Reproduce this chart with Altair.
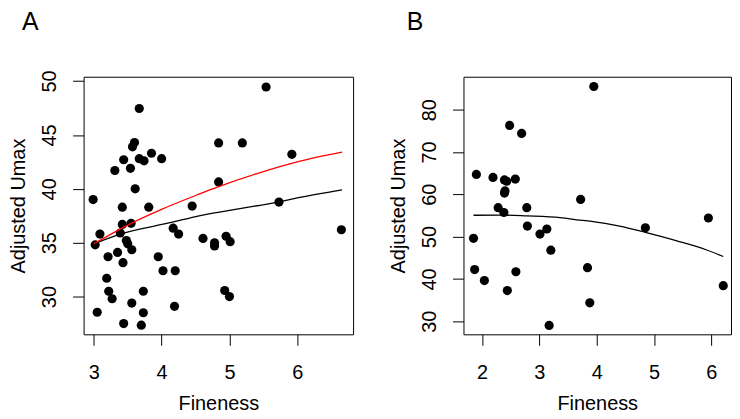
import altair as alt
import pandas as pd

FONT = "Liberation Sans"

# ---------------- Panel A data ----------------
fineness_a = [3.67, 3.60, 3.57, 3.44, 3.85, 3.67, 3.74, 4.00, 3.31, 3.54,
              3.61, 2.99, 4.84, 5.19, 5.54, 5.92, 4.84, 5.73, 4.61, 4.78,
              4.78, 4.95, 5.01, 6.65, 4.93, 5.00, 3.42, 3.81, 4.45, 3.42,
              3.55, 3.09, 3.39, 3.02, 3.48, 3.50, 3.56, 3.21, 3.35, 3.43,
              4.17, 4.25, 3.95, 4.02, 4.20, 3.19, 3.22, 3.27, 3.73, 3.56,
              4.19, 3.05, 3.73, 3.44, 3.70]
umax_a = [47.45, 44.3, 43.9, 42.7, 43.3, 42.8, 42.6, 42.8, 41.7, 41.9,
          40.0, 39.0, 44.26, 44.26, 49.45, 43.2, 40.64, 38.77, 35.4, 35.0,
          34.7, 35.6, 35.1, 36.2, 30.57, 30.0, 38.3, 38.3, 38.4, 36.7,
          36.8, 35.8, 35.9, 34.8, 35.2, 34.9, 34.35, 33.7, 34.1, 33.15,
          36.35, 35.8, 33.7, 32.4, 32.4, 31.7, 30.5, 29.8, 30.5, 29.4,
          29.1, 28.55, 28.5, 27.5, 27.35]

fit_black_x_a = [3.0, 3.39, 4.16, 4.55, 5.0, 5.73, 6.0, 6.66]
fit_black_y_a = [34.9, 35.8, 36.9, 37.5, 38.0, 38.8, 39.15, 39.9]
fit_red_x_a = [3.0, 3.55, 4.0, 4.55, 4.84, 5.5, 6.0, 6.66]
fit_red_y_a = [34.9, 36.8, 38.1, 39.5, 40.2, 41.6, 42.5, 43.4]

# ---------------- Panel B data ----------------
fineness_b = [2.48, 2.69, 1.90, 2.19, 2.39, 2.43, 2.58, 2.40, 2.39, 2.28,
              2.38, 2.78, 2.79, 3.01, 3.13, 3.20, 1.85, 1.87, 2.04, 2.59,
              2.44, 3.17, 3.95, 3.72, 4.85, 5.95, 3.84, 3.88, 6.21]
umax_b = [76.3, 74.4, 64.7, 64.0, 63.4, 63.1, 63.6, 60.8, 60.3, 56.85,
          55.7, 56.85, 52.5, 50.6, 51.8, 46.8, 49.6, 42.2, 39.6, 41.7,
          37.25, 29.0, 85.5, 58.8, 52.1, 54.4, 42.65, 34.35, 38.4]

fit_x_b = [1.85, 2.3, 2.78, 3.36, 3.71, 3.94, 4.4, 4.85, 5.4, 5.91, 6.21]
fit_y_b = [55.05, 55.1, 54.9, 54.5, 53.9, 53.55, 52.5, 51.0, 49.0, 46.9, 45.3]

x_ticks_a = [3, 4, 5, 6]
y_ticks_a = [30, 35, 40, 45, 50]
x_ticks_b = [2, 3, 4, 5, 6]
y_ticks_b = [30, 40, 50, 60, 70, 80]

x_title = "Fineness"
y_title = "Adjusted Umax"
FS = 20


def x_axis(vals):
    return alt.Axis(values=vals, format="d", title=x_title, tickSize=11,
                    labelPadding=17, titlePadding=12, minExtent=48, maxExtent=48,
                    domain=False, grid=False, labelFont=FONT, titleFont=FONT,
                    labelFontSize=FS, titleFontSize=FS, titleFontWeight="normal",
                    labelColor="black", titleColor="black", tickColor="black",
                    labelFlush=False, labelOverlap=False)


def y_axis(vals):
    return alt.Axis(values=vals, format="d", title=y_title, tickSize=11,
                    labelPadding=13, titlePadding=11, minExtent=44, maxExtent=44,
                    domain=False, grid=False, labelAngle=270, labelAlign="center",
                    labelBaseline="bottom", labelFont=FONT, titleFont=FONT,
                    labelFontSize=FS, titleFontSize=FS, titleFontWeight="normal",
                    labelColor="black", titleColor="black", tickColor="black",
                    labelFlush=False, labelOverlap=False)


def panel(xs, ys, fits, xdom, ydom, xt, yt, label, lx, width):
    xsc = alt.Scale(domain=xdom, nice=False, zero=False)
    ysc = alt.Scale(domain=ydom, nice=False, zero=False)
    pts = alt.Chart(pd.DataFrame({"x": xs, "y": ys})).mark_circle(
        size=85, color="black", opacity=1).encode(
        x=alt.X("x:Q", scale=xsc, axis=x_axis(xt)),
        y=alt.Y("y:Q", scale=ysc, axis=y_axis(yt)))
    layers = [pts]
    for fx, fy, col in fits:
        layers.append(alt.Chart(pd.DataFrame({"x": fx, "y": fy})).mark_line(
            color=col, strokeWidth=1.3, interpolate="monotone").encode(
            x=alt.X("x:Q", scale=xsc), y=alt.Y("y:Q", scale=ysc)))
    lab = alt.Chart(pd.DataFrame({"t": [label]})).mark_text(
        align="left", baseline="alphabetic", fontSize=25, font=FONT,
        color="black").encode(text="t:N", x=alt.value(lx), y=alt.value(-47))
    layers.append(lab)
    return alt.layer(*layers).properties(width=width, height=259)


panel_a = panel(fineness_a, umax_a,
                [(fit_black_x_a, fit_black_y_a, "black"),
                 (fit_red_x_a, fit_red_y_a, "#FF0000")],
                [2.849, 6.823], [26.50, 50.40], x_ticks_a, y_ticks_a, "A", -62, 271)
panel_b = panel(fineness_b, umax_b, [(fit_x_b, fit_y_b, "black")],
                [1.675, 6.345], [26.9, 87.8], x_ticks_b, y_ticks_b, "B", -57, 269)

chart = alt.hconcat(panel_a, panel_b, spacing=34).configure_view(
    stroke="black", strokeWidth=1).properties(
    padding={"left": 0, "top": 0, "right": 0, "bottom": 0})

chart.save("out.html", embed_options={"renderer": "svg", "actions": False})
